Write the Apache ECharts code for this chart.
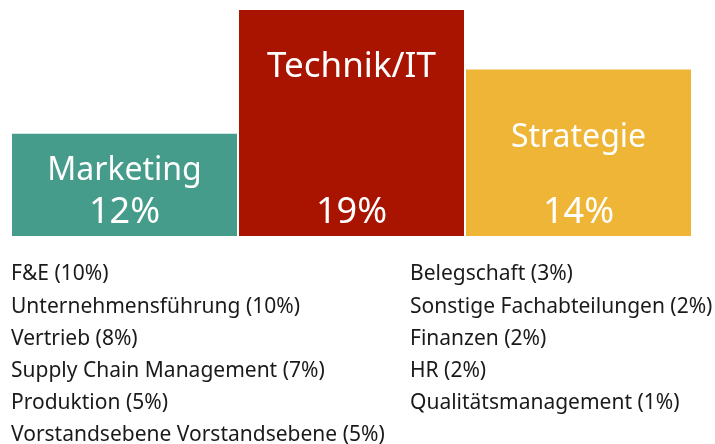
<!DOCTYPE html>
<html>
<head>
<meta charset="utf-8">
<script src="https://cdn.jsdelivr.net/npm/echarts@6/dist/echarts.min.js"></script>
<style>
  html, body { margin: 0; padding: 0; background: #fff; }
  #main { width: 715px; height: 444px; }
</style>
</head>
<body>
<div id="main"></div>
<script>
const areas = ["Marketing", "Technik/IT", "Strategie"];
const areaShares = [12, 19, 14];
// bar heights as drawn in the picture (they are not proportional to the shares)
const barHeights = [8.6, 19, 14];
const leftItems = ["F&E", "Unternehmensführung", "Vertrieb", "Supply Chain Management", "Produktion", "Vorstandsebene Vorstandsebene"];
const leftShares = [10, 10, 8, 7, 5, 5];
const rightItems = ["Belegschaft", "Sonstige Fachabteilungen", "Finanzen", "HR", "Qualitätsmanagement"];
const rightShares = [3, 2, 2, 2, 1];

const barColors = ["#469c8a", "#a81400", "#efb536"];
const nameDistance = [21, 40, 52];
const nameSize = [32, 35, 32];
const fontFamily = "Noto Sans";

function listText(names, shares, x) {
  return names.map(function (n, i) {
    return {
      type: "text",
      left: x,
      top: 264 + i * 32.2,
      style: {
        text: n + " (" + shares[i] + "%)",
        font: '21px "Noto Sans"',
        fill: "#1a1a1a",
      },
    };
  });
}

let option = {
  animation: false,
  grid: { left: 11, right: 23, top: 10, bottom: 208 },
  xAxis: { type: "category", data: areas, show: false },
  yAxis: { type: "value", min: 0, max: 19, show: false },
  graphic: listText(leftItems, leftShares, 11).concat(listText(rightItems, rightShares, 410)),
  series: [
    {
      type: "bar",
      barWidth: 225,
      silent: true,
      data: barHeights.map(function (v, i) {
        return {
          value: v,
          itemStyle: { color: barColors[i] },
          label: { distance: nameDistance[i], fontSize: nameSize[i] },
        };
      }),
      label: {
        show: true,
        position: "insideTop",
        color: "#fff",
        fontFamily: fontFamily,
        fontSize: 32,
        formatter: function (p) { return areas[p.dataIndex]; },
      },
    },
    {
      type: "bar",
      barWidth: 225,
      barGap: "-100%",
      silent: true,
      data: barHeights,
      itemStyle: { color: "rgba(0,0,0,0)" },
      label: {
        show: true,
        position: "insideBottom",
        distance: 5,
        color: "#fff",
        fontFamily: fontFamily,
        fontSize: 36,
        formatter: function (p) { return areaShares[p.dataIndex] + "%"; },
      },
    },
  ],
};

let myChart = echarts.init(document.getElementById("main"));
option && myChart.setOption(option);
</script>
</body>
</html>
